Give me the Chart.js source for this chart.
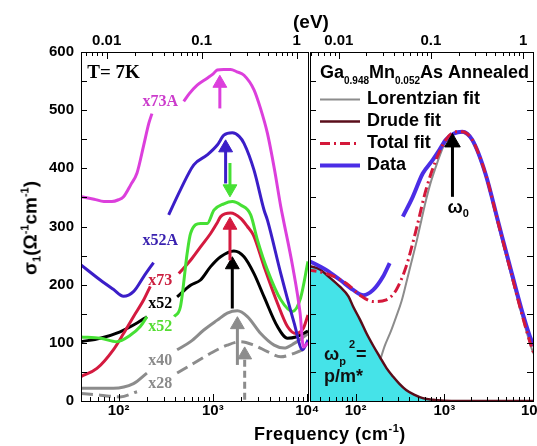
<!DOCTYPE html>
<html>
<head>
<meta charset="utf-8">
<script src="https://cdn.jsdelivr.net/npm/chart.js@4.4.1/dist/chart.umd.min.js"></script>
<style>
  body { margin: 0; width: 537px; height: 446px; overflow: hidden; background: #fff; position: relative;
         font-family: 'Liberation Sans', Arial, sans-serif; }
  canvas { position: absolute; top: 0; }
  #leftChart { left: 0; }
  #rightChart { left: 300px; }
  .axis-title { position: absolute; font-weight: bold; color: #000; white-space: nowrap; line-height: 1; }
  .axis-title sup, .axis-title sub { font-size: 11px; line-height: 0; }
  .axis-title sup { vertical-align: 8px; }
  .axis-title sub { vertical-align: -4px; }
  #freqTitle { left: 254px; top: 425px; font-size: 18px; letter-spacing: 0.5px; }
  #evTitle { left: 293px; top: 12px; font-size: 19px; }
  #sigmaTitle { left: 30px; top: 228px; font-size: 19px; transform: translate(-50%, -50%) rotate(-90deg); }
</style>
</head>
<body>
<canvas id="leftChart" width="330" height="446"></canvas>
<canvas id="rightChart" width="250" height="446"></canvas>
<div class="axis-title" id="freqTitle">Frequency (cm<sup>-1</sup>)</div>
<div class="axis-title" id="evTitle">(eV)</div>
<div class="axis-title" id="sigmaTitle">σ<sub>1</sub>(Ω<sup>-1</sup>cm<sup>-1</sup>)</div>
<script>
// ---- left panel: sigma_1 (Ohm^-1 cm^-1) vs frequency (cm^-1), T = 7K ----
const x73A = [[40,351],[55,347],[70,343],[85,343],[100,346],[113,351],[135,372],[157,392],[185,440],[210,478],[226,494],[300,null],
    [491,515],[560,528],[682,543],[871,555],[1000,562],[1114,569],[1300,570],[1542,570],[1800,566],[2139,560],[2730,535],
    [3200,503],[3790,460],[4500,398],[5250,334],[5600,311],[7000,232],[8410,151],[9120,93],[10200,100]];
const x52A = [[40,234],[64,208],[88,192],[113,180],[144,188],[185,214],[235,238],[290,null],
    [340,320],[453,363],[628,406],[871,423],[1114,440],[1309,457],[1607,461],[1900,455],[2139,443],[2730,397],
    [3493,328],[3790,311],[5250,219],[7280,134],[8930,88],[10200,105]];
const x52green = [[40,110],[64,108],[96,102],[133,113],[170,128],[200,145],[300,null],
    [390,145],[453,162],[534,254],[580,288],[740,305],[871,305],[1026,328],[1309,339],[1607,343],[1972,337],
    [2518,320],[2966,277],[3790,225],[5250,174],[7000,154],[8510,177],[10200,240]];
const x73 = [[40,42],[59,56],[88,88],[113,116],[144,145],[185,174],[217,197],[300,null],
    [435,219],[580,242],[740,265],[946,288],[1100,305],[1209,317],[1542,323],[1972,314],[2323,300],[2690,285],
    [3493,231],[4840,168],[6180,128],[7590,116],[9100,125],[10200,148]];
const x52black = [[40,102],[64,108],[104,119],[157,134],[200,145],[300,null],
    [418,179],[580,199],[740,208],[946,231],[1209,248],[1671,258],[2139,248],[2730,219],[3493,179],
    [4840,128],[6180,108],[7590,110],[10200,120]];
const x40 = [[40,22],[88,22],[144,30],[200,48],[300,null],
    [418,88],[580,102],[802,122],[1114,139],[1422,151],[1820,155],[2323,145],[3215,116],[4460,96],[5690,91],[7280,99],[10200,116]];
const x28 = [[40,13],[64,10],[104,7],[157,16],[300,null],
    [418,48],[628,65],[946,82],[1422,96],[1972,102],[2730,96],[3790,85],[5250,76],[7280,82],[10200,92]];

// peak arrows (frequency, start value, tip value)
const arrowFreq = [1186, 1365, 1518, 1518, 1607, 1820, 2174];
const arrowFrom = [503, 374, 409, 242, 159, 62, 2];
const arrowTip  = [560, 449, 351, 316, 248, 145, 93];

const curveLabels = ['x73A', 'x52A', 'x73', 'x52', 'x52', 'x40', 'x28'];
const curveLabelFreq = 277;
const curveLabelValue = [514, 275, 206, 167, 127, 69, 29];

// ---- right panel: Ga0.948Mn0.052As annealed, fits ----
const rData = [[28,243],[47,225],[67,208],[94,191],[122,182],[158,191],[204,214],[242,237],[290,null],
    [341,317],[441,351],[571,391],[738,414],[875,431],[1040,449],[1286,460],[1596,463],[2064,449],[2908,391],
    [4096,305],[5780,219],[7475,156],[9665,103],[11000,90]];
const rTotal = [[28,226],[47,219],[79,202],[112,182],[158,171],[222,174],[287,191],[371,231],[481,294],[621,363],
    [804,414],[1040,449],[1343,463],[1596,463],[2064,449],[2908,391],[4096,303],[5780,215],[7475,150],[9665,92],[11000,70]];
const rDrude = [[28,233],[40,226],[47,217],[67,196],[83,180],[94,162],[112,140],[133,116],[158,95],[187,76],[222,57],
    [264,42],[310,30],[371,19],[456,11],[571,5],[738,2],[1000,0.5],[1500,0],[11000,0]];
const rLorentz = [[60,2],[100,8],[150,30],[180,60],[211,93],[250,120],[287,145],[330,172],[371,202],[420,235],[481,271],
    [550,310],[621,345],[700,375],[804,403],[920,428],[1040,446],[1200,458],[1463,463],[1700,460],[2064,447],
    [2908,388],[4096,300],[5780,212],[7475,148],[9665,90],[11000,70]];
const omegaFreq = 1236, omegaFrom = 351, omegaTip = 460;

// ---- styling ----
const C = {
    magenta: '#dc3fdc', blue: '#3b1ec8', green: '#46e034', red: '#d41a3f', black: '#000000', grey: '#8c8c8c',
    drude: '#5a0d1a', total: '#d4183a', data: '#4b2de6', cyan: '#45e3e8'
};
const labelColors = ['#cc3ccc', '#3a22b0', '#cc2040', '#000000', '#55dd33', '#8a8a8a', '#8a8a8a'];
const arrowColors = [C.magenta, C.blue, C.green, C.red, C.black, C.grey, C.grey];
const SANS = "'Liberation Sans', Arial, sans-serif";
const SERIF = "'Liberation Serif', 'Times New Roman', serif";

Chart.defaults.font.family = SANS;
Chart.defaults.color = '#000';

const pts = arr => arr.map(([x, y]) => ({ x: x, y: y }));

const curve = (label, arr, color, width, dash) => ({
    label: label, data: pts(arr), borderColor: color, backgroundColor: color,
    borderWidth: width, borderDash: dash || [], pointRadius: 0, fill: false,
    cubicInterpolationMode: 'monotone', borderJoinStyle: 'round', borderCapStyle: 'butt', clip: 0
});

// arrow = shaft + triangle point whose centre sits below the tip
const arrow = (freq, from, tip, color, radius, unitsPerPx, dashed) => {
    const up = tip > from;
    const head = up ? tip - radius * unitsPerPx : tip + radius * unitsPerPx;
    return {
        data: [{ x: freq, y: from }, { x: freq, y: head }],
        borderColor: color, borderWidth: 3, borderDash: dashed ? [7, 4] : [],
        pointRadius: [0, radius], pointStyle: 'triangle', pointRotation: up ? 0 : 180,
        pointBackgroundColor: color, pointBorderColor: color, pointBorderWidth: 1, fill: false, clip: 0
    };
};

const supLabel = { 100: '10²', 1000: '10³', 10000: '10⁴' };
const keepTicks = (values) => (scale) => {
    scale.ticks = values.filter(v => v >= scale.min * 0.999 && v <= scale.max * 1.001).map(v => ({ value: v }));
};

const makeScales = (xmin, xmax, evmin, evmax, showY) => ({
    x: {
        type: 'logarithmic', position: 'bottom', min: xmin, max: xmax,
        grid: { display: false, drawTicks: false }, border: { display: false },
        ticks: { padding: 1, autoSkip: false, maxRotation: 0, font: { size: 15, weight: 'bold' },
                 callback: v => supLabel[v] || '' },
        afterBuildTicks: keepTicks([100, 1000, 10000]),
        afterFit: s => { s.height = 45; s.paddingLeft = 0; s.paddingRight = 0; }
    },
    x2: {
        type: 'logarithmic', position: 'top', min: evmin, max: evmax,
        grid: { display: false, drawTicks: false }, border: { display: false },
        ticks: { padding: 2, autoSkip: false, maxRotation: 0, font: { size: 15, weight: 'bold' },
                 callback: v => String(v) },
        afterBuildTicks: keepTicks([0.01, 0.1, 1]),
        afterFit: s => { s.height = 52; s.paddingLeft = 0; s.paddingRight = 0; }
    },
    y: {
        display: showY, min: 0, max: 600,
        grid: { display: false, drawTicks: false }, border: { display: false },
        ticks: { stepSize: 100, padding: 7, font: { size: 15, weight: 'bold' } },
        afterFit: s => { s.width = showY ? 81 : 0; s.paddingTop = 0; s.paddingBottom = 0; }
    }
});

// frame plus inward tick marks, positioned through the chart scales
const frameTicks = {
    id: 'frameTicks',
    afterDraw(chart, args, opts) {
        const { ctx, chartArea: a, scales } = chart;
        ctx.save();
        ctx.strokeStyle = '#000';
        ctx.lineWidth = 1;
        ctx.strokeRect(a.left + 0.5, a.top + 0.5, a.right - a.left, a.bottom - a.top);
        const logTicks = (scale, y0, dir) => {
            const lo = Math.floor(Math.log10(scale.min)), hi = Math.ceil(Math.log10(scale.max));
            for (let e = lo; e <= hi; e++) {
                for (let k = 1; k < 10; k++) {
                    const v = k * Math.pow(10, e);
                    if (v < scale.min || v > scale.max) continue;
                    const px = Math.round(scale.getPixelForValue(v)) + 0.5;
                    ctx.beginPath();
                    ctx.moveTo(px, y0);
                    ctx.lineTo(px, y0 + dir * (k === 1 ? 7 : 4));
                    ctx.stroke();
                }
            }
        };
        logTicks(scales.x, a.bottom, -1);
        logTicks(scales.x2, a.top, 1);
        for (let v = 0; v <= 600; v += 50) {
            const py = Math.round(scales.y.getPixelForValue(v)) + 0.5;
            ctx.beginPath();
            if (opts.left) { ctx.moveTo(a.left, py); ctx.lineTo(a.left + 6, py); }
            if (opts.right) { ctx.moveTo(a.right, py); ctx.lineTo(a.right - 6, py); }
            ctx.stroke();
        }
        ctx.restore();
    }
};

function drawRich(ctx, x, y, parts, family, color) {
    ctx.fillStyle = color;
    ctx.textAlign = 'left';
    ctx.textBaseline = 'alphabetic';
    parts.forEach(([t, size, dy, dx]) => {
        x += dx || 0;
        ctx.font = `bold ${size}px ${family}`;
        ctx.fillText(t, x, y + (dy || 0));
        x += ctx.measureText(t).width;
    });
}

// ---------------- left chart ----------------
const leftUnits = 600 / 349; // value units per pixel on the y axis
const leftDatasets = arrowFreq.map((f, i) =>
    arrow(f, arrowFrom[i], arrowTip[i], arrowColors[i], 8, leftUnits, i === 6));
leftDatasets.push(
    curve('x73A', x73A, C.magenta, 3),
    curve('x52A', x52A, C.blue, 3),
    curve('x52', x52green, C.green, 3),
    curve('x73', x73, C.red, 3),
    curve('x52', x52black, C.black, 3),
    curve('x40', x40, C.grey, 3),
    curve('x28', x28, C.grey, 3, [12, 6])
);

const leftText = {
    id: 'leftText',
    afterDatasetsDraw(chart) {
        const { ctx, scales: { x, y } } = chart;
        ctx.save();
        ctx.textAlign = 'center';
        ctx.textBaseline = 'middle';
        ctx.font = `bold 16px ${SERIF}`;
        curveLabels.forEach((t, i) => {
            ctx.fillStyle = labelColors[i];
            ctx.fillText(t, x.getPixelForValue(curveLabelFreq), y.getPixelForValue(curveLabelValue[i]));
        });
        ctx.textAlign = 'left';
        ctx.fillStyle = '#000';
        ctx.font = `bold 19px ${SERIF}`;
        ctx.fillText('T= 7K', x.getPixelForValue(46.6), y.getPixelForValue(564));
        ctx.restore();
    }
};

new Chart(document.getElementById('leftChart'), {
    type: 'line',
    data: { datasets: leftDatasets },
    options: {
        responsive: false, animation: false, events: [],
        layout: { padding: { left: 0, right: 22, top: 0, bottom: 0 } },
        plugins: { legend: { display: false }, tooltip: { enabled: false }, frameTicks: { left: true, right: false } },
        scales: makeScales(40, 10200, 0.00537, 1.315, true)
    },
    plugins: [frameTicks, leftText]
});

// ---------------- right chart ----------------
const rightDatasets = [
    arrow(omegaFreq, omegaFrom, omegaTip, '#000', 9, leftUnits, false),
    curve('Total fit', rTotal, C.total, 3, [10, 4, 2, 4]),
    curve('Data', rData, C.data, 4),
    Object.assign(curve('Drude fit', rDrude, C.drude, 2.5), { fill: 'origin', backgroundColor: C.cyan }),
    curve('Lorentzian fit', rLorentz, C.grey, 2)
];
const legendOrder = ['Lorentzian fit', 'Drude fit', 'Total fit', 'Data'];

const rightText = {
    id: 'rightText',
    afterDatasetsDraw(chart) {
        const { ctx, chartArea: a, scales: { x, y } } = chart;
        ctx.save();
        // sample title
        drawRich(ctx, a.left + 10, a.top + 26, [
            ['Ga', 18], ['0.948', 10, 6], ['Mn', 18], ['0.052', 10, 6], ['As Annealed', 18]
        ], SANS, '#000');
        // legend
        legendOrder.forEach((name, i) => {
            const ds = chart.data.datasets.find(d => d.label === name);
            const cy = a.top + 47.5 + i * 22;
            ctx.strokeStyle = ds.borderColor;
            ctx.lineWidth = ds.borderWidth;
            ctx.setLineDash(ds.borderDash);
            ctx.beginPath();
            ctx.moveTo(a.left + 10, cy);
            ctx.lineTo(a.left + 50, cy);
            ctx.stroke();
            ctx.setLineDash([]);
            ctx.fillStyle = '#000';
            ctx.font = `bold 18px ${SANS}`;
            ctx.textAlign = 'left';
            ctx.textBaseline = 'middle';
            ctx.fillText(name, a.left + 57, cy);
        });
        // omega_0 under the arrow
        drawRich(ctx, x.getPixelForValue(omegaFreq) - 5, y.getPixelForValue(323), [['ω', 18], ['0', 11, 4]], SANS, '#000');
        // plasma frequency annotation in the Drude area
        drawRich(ctx, x.getPixelForValue(44), y.getPixelForValue(70), [['ω', 18], ['p', 11, 5], ['2', 11, -12, 3], ['=', 18, 0, 1]], SANS, '#111');
        drawRich(ctx, x.getPixelForValue(44), y.getPixelForValue(33), [['p/m*', 18]], SANS, '#111');
        ctx.restore();
    }
};

new Chart(document.getElementById('rightChart'), {
    type: 'line',
    data: { datasets: rightDatasets },
    options: {
        responsive: false, animation: false, events: [],
        layout: { padding: { left: 8, right: 17, top: 0, bottom: 0 } },
        plugins: { legend: { display: false }, tooltip: { enabled: false }, frameTicks: { left: true, right: true } },
        scales: makeScales(30.6, 10000, 0.00488, 1.28, false)
    },
    plugins: [frameTicks, rightText]
});
</script>
</body>
</html>
